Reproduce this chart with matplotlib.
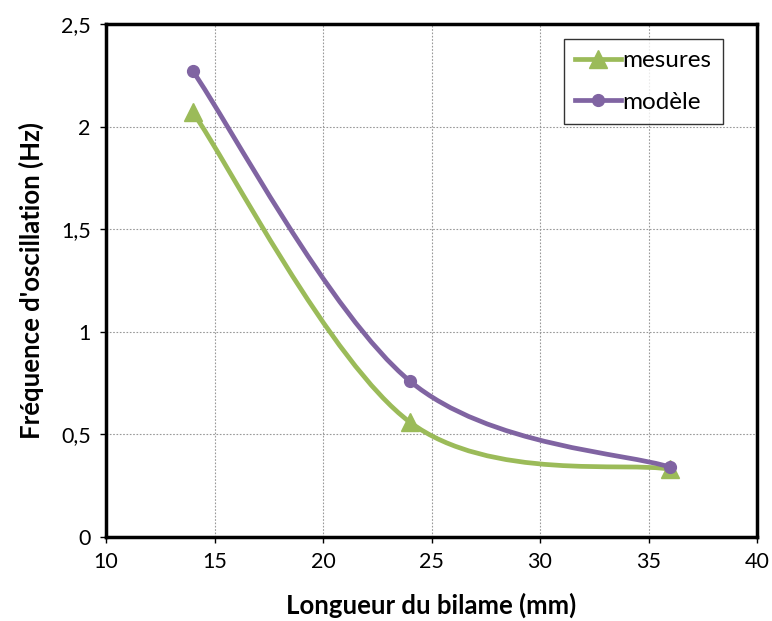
import matplotlib
matplotlib.use("Agg")
import matplotlib.pyplot as plt
from matplotlib.path import Path
from matplotlib.patches import PathPatch
from matplotlib.lines import Line2D
import numpy as np

longueur = [14, 24, 36]
mesures = [2.07, 0.56, 0.33]
modele = [2.27, 0.76, 0.34]

x_ticks = [10, 15, 20, 25, 30, 35, 40]
y_ticks = [0, 0.5, 1, 1.5, 2, 2.5]
y_labels = ["0", "0,5", "1", "1,5", "2", "2,5"]

green = "#9BBB59"
purple = "#8064A2"

plt.rcParams['font.family'] = ['Lato', 'DejaVu Sans']


def smooth_path(x, y):
    # Excel-like smoothed line: cubic bezier segments (Catmull-Rom style)
    pts = np.column_stack([x, y]).astype(float)
    n = len(pts)
    verts = [pts[0]]
    codes = [Path.MOVETO]
    for i in range(n - 1):
        p0 = pts[max(i - 1, 0)]
        p1 = pts[i]
        p2 = pts[i + 1]
        p3 = pts[min(i + 2, n - 1)]
        c1 = p1 + (p2 - p0) / 6.0
        c2 = p2 - (p3 - p1) / 6.0
        verts += [c1, c2, p2]
        codes += [Path.CURVE4] * 3
    return Path(verts, codes)


fig = plt.figure(figsize=(7.72, 6.21), dpi=100)
ax = fig.add_axes([0.1373, 0.1353, 0.8433, 0.8261])

ax.add_patch(PathPatch(smooth_path(longueur, mesures), facecolor="none",
                       edgecolor=green, lw=3.4, capstyle="round", zorder=3))
ax.add_patch(PathPatch(smooth_path(longueur, modele), facecolor="none",
                       edgecolor=purple, lw=3.4, capstyle="round", zorder=4))
ax.plot(longueur, mesures, linestyle="none", marker="^", ms=13,
        color=green, zorder=5)
ax.plot(longueur, modele, linestyle="none", marker="o", ms=8.5,
        color=purple, zorder=6)

ax.set_xlim(10, 40)
ax.set_ylim(0, 2.5)
ax.set_xticks(x_ticks)
ax.set_yticks(y_ticks)
ax.set_yticklabels(y_labels)
ax.tick_params(labelsize=15.5, length=4, width=1, direction="out", pad=7)
ax.grid(True, color="#999999", linestyle=(0, (1.5, 1.5)), linewidth=0.8)
ax.set_axisbelow(True)
for s in ax.spines.values():
    s.set_linewidth(2.5)
    s.set_color("black")

ax.set_xlabel("Longueur du bilame (mm)", fontsize=18.5, fontweight="bold", labelpad=15)
ax.set_ylabel("Fréquence d'oscillation (Hz)", fontsize=18.5, fontweight="bold", labelpad=12)

handles = [
    Line2D([], [], color=green, lw=3.4, marker="^", ms=13),
    Line2D([], [], color=purple, lw=3.4, marker="o", ms=8.5),
]
leg = ax.legend(handles, ["mesures", "modèle"], loc="upper right",
                bbox_to_anchor=(0.947, 0.97), fontsize=17.5, frameon=True,
                fancybox=False, edgecolor="black", handlelength=1.9,
                handletextpad=0.05, borderpad=0.45, labelspacing=0.85,
                borderaxespad=0)
leg.get_frame().set_linewidth(1)

fig.savefig("out.png", dpi=100)
